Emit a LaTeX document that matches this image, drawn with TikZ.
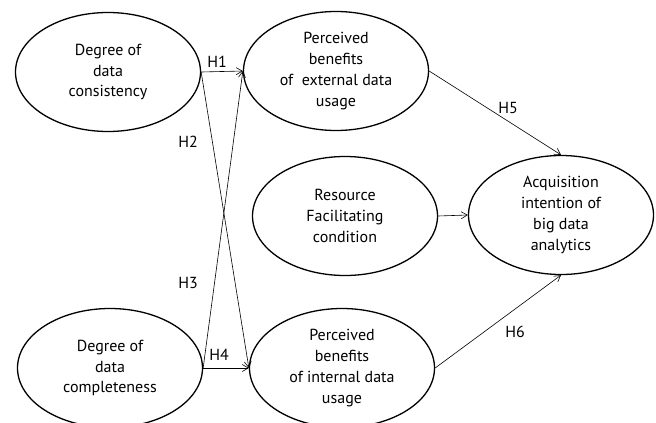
\documentclass[tikz,border=0pt]{standalone}
\usepackage{fontspec}
\setmainfont{PT Sans}
\usetikzlibrary{shapes.geometric,arrows.meta}
\tikzset{
  construct/.style={draw, line width=1.3pt, ellipse, minimum width=185pt, minimum height=119pt, inner sep=0pt, align=center, font=\fontsize{16}{20.9}\selectfont},
  path/.style={line width=0.6pt, -{Straight Barb[length=6pt,width=7pt]}},
  hlabel/.style={font=\fontsize{16}{20}\selectfont, inner sep=0pt}
}
\begin{document}
\begin{tikzpicture}[x=1pt,y=-1pt]
\useasboundingbox (0,0) rectangle (656,423);
\node[construct] (cons) at (108,72) {Degree of\\data\\consistency};
\node[construct] (ext) at (336,71) {\raisebox{-4pt}{\begin{tabular}{@{}c@{}}Perceived\\benefits\\of~ external data\\usage\end{tabular}}};
\node[construct] (res) at (345,216) {Resource\\Facilitating\\condition};
\node[construct] (acq) at (561,215) {\raisebox{-2pt}{\begin{tabular}{@{}c@{}}Acquisition\\intention of\\big data\\analytics\end{tabular}}};
\node[construct] (compl) at (110,368) {Degree of\\data\\completeness};
\node[construct] (int) at (342,368) {\raisebox{-2pt}{\begin{tabular}{@{}c@{}}Perceived\\benefits\\of internal data\\usage\end{tabular}}};
\draw[path] (cons.east) -- (ext.west);
\draw[path] (cons.east) -- (int.west);
\draw[path] (compl.east) -- (ext.west);
\draw[path] (compl.east) -- (int.west);
\draw[path] (ext.east) -- (acq.north);
\draw[path] (res.east) -- (acq.west);
\draw[path] (int.east) -- (acq.south);
\node[hlabel] (h1) at (217,62) {H1};
\node[hlabel] (h2) at (188,142) {H2};
\node[hlabel] (h3) at (188,283) {H3};
\node[hlabel] (h4) at (219,355) {H4};
\node[hlabel] (h5) at (508,108) {H5};
\node[hlabel] (h6) at (515,332) {H6};
\end{tikzpicture}
\end{document}
